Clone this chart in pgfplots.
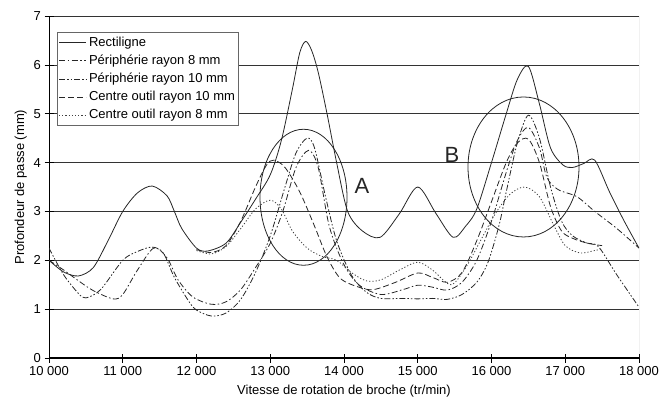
\documentclass[border=0pt]{standalone}
\usepackage{fontspec}
\setmainfont{Liberation Sans}
\usepackage{pgfplots}
\pgfplotsset{compat=1.18}

\begin{document}
\begin{tikzpicture}
\path[use as bounding box] (0,0) rectangle (663pt,408pt);

\begin{axis}[
    at={(49pt,50pt)}, anchor=south west,
    scale only axis, width=590pt, height=342pt,
    xmin=10000, xmax=18000, ymin=0, ymax=7,
    axis x line=bottom, axis y line=left,
    axis line style={-, black},
    x axis line style={line width=1.2pt},
    xtick={10000,11000,...,18000},
    xticklabels={10~000,11~000,12~000,13~000,14~000,15~000,16~000,17~000,18~000},
    scaled x ticks=false,
    ytick={0,1,...,7},
    ymajorgrids,
    grid style={black!80, line width=0.7pt},
    tick align=center,
    major tick length=9pt,
    tick style={black, line width=0.7pt},
    /pgf/number format/assume math mode=true,
    tick label style={font=\fontsize{13}{15}\selectfont},
    xlabel={Vitesse de rotation de broche (tr/min)},
    ylabel={Profondeur de passe (mm)},
    label style={font=\fontsize{13}{15}\selectfont},
    xlabel style={yshift=-3pt},
    legend style={
        at={(rel axis cs:0.014,0.953)}, anchor=north west,
        draw=black!60, line width=0.8pt, fill=white,
        font=\fontsize{13}{15}\selectfont,
        cells={anchor=west},
        nodes={text height=10pt, text depth=3pt, inner sep=2.6pt},
        inner sep=1pt, row sep=0pt,
    },
    legend image code/.code={\draw[#1] (0pt,0pt) -- (27pt,0pt);},
]

% Rectiligne
\addplot[black!85, line width=0.8pt, smooth] coordinates {
(10000,2.00)(10200,1.76)(10400,1.68)(10600,1.85)(10800,2.40)(11000,3.00)
(11200,3.38)(11400,3.52)(11600,3.32)(11700,3.00)(11800,2.65)(12000,2.25)
(12150,2.19)(12400,2.35)(12600,2.78)(12800,3.25)(13000,3.75)(13150,4.45)
(13300,5.50)(13400,6.25)(13480,6.48)(13560,6.30)(13650,5.85)(13770,5.00)
(13900,4.00)(14050,3.00)(14250,2.60)(14490,2.47)(14750,2.95)(15000,3.50)
(15250,2.95)(15480,2.47)(15650,2.70)(15800,3.05)(16000,4.00)(16200,5.00)
(16350,5.70)(16500,5.97)(16650,5.20)(16800,4.30)(16970,3.95)(17100,3.90)
(17250,3.98)(17400,4.05)(17600,3.40)(17800,2.80)(18000,2.25)
};
\addlegendentry{Rectiligne}

% Peripherie rayon 8 mm
\addplot[black!85, line width=0.8pt, smooth,
    dash pattern=on 6pt off 2.5pt on 1.5pt off 2.5pt] coordinates {
(10000,2.00)(10200,1.80)(10400,1.58)(10600,1.38)(10870,1.21)(11000,1.30)
(11200,1.80)(11420,2.25)(11600,2.05)(11750,1.60)(11950,1.25)(12200,1.10)
(12400,1.15)(12600,1.40)(12800,1.85)(13000,2.35)(13170,3.00)(13350,3.90)
(13520,4.25)(13650,3.90)(13800,2.70)(13990,1.94)(14200,1.50)(14500,1.30)
(14800,1.40)(15000,1.49)(15200,1.45)(15400,1.39)(15600,1.55)(15800,2.00)
(16000,2.80)(16200,3.80)(16350,4.45)(16500,4.72)(16650,4.30)(16750,3.70)
(16900,3.45)(17160,3.30)(17400,3.00)(17700,2.65)(18000,2.25)
};
\addlegendentry{Périphérie rayon 8 mm}

% Peripherie rayon 10 mm
\addplot[black!85, line width=0.8pt, smooth,
    dash pattern=on 6pt off 2pt on 1.5pt off 2pt on 1.5pt off 2pt] coordinates {
(10000,2.25)(10200,1.70)(10400,1.32)(10500,1.23)(10700,1.40)(11000,2.00)
(11200,2.18)(11400,2.27)(11550,2.15)(11700,1.65)(11900,1.15)(12000,0.98)
(12200,0.86)(12400,0.92)(12600,1.20)(12800,1.75)(13000,2.50)(13200,3.50)
(13350,4.20)(13500,4.50)(13600,4.30)(13750,3.30)(13900,2.40)(14100,1.70)
(14300,1.35)(14500,1.22)(14800,1.22)(15000,1.21)(15200,1.22)(15400,1.20)
(15600,1.30)(15800,1.55)(15950,1.95)(16100,2.70)(16200,3.40)(16350,4.40)
(16500,4.97)(16650,4.50)(16800,3.50)(16950,2.80)(17100,2.50)(17300,2.35)
(17450,2.28)(17700,1.70)(18000,1.04)
};
\addlegendentry{Périphérie rayon 10 mm}

% Centre outil rayon 10 mm
\addplot[black!85, line width=0.8pt, smooth,
    dash pattern=on 6pt off 3pt] coordinates {
(12000,2.22)(12200,2.16)(12400,2.30)(12600,2.80)(12800,3.50)(12950,3.95)
(13050,4.05)(13200,3.90)(13400,3.40)(13600,2.70)(13770,2.07)(13950,1.63)
(14200,1.45)(14400,1.40)(14700,1.55)(15000,1.74)(15200,1.65)(15400,1.55)
(15600,1.75)(15800,2.40)(16000,3.20)(16200,4.00)(16350,4.40)(16500,4.48)
(16650,4.00)(16800,3.10)(16950,2.60)(17100,2.45)(17300,2.35)(17500,2.30)
};
\addlegendentry{Centre outil rayon 10 mm}

% Centre outil rayon 8 mm
\addplot[black!75, line width=0.8pt, smooth,
    dash pattern=on 1.2pt off 2pt] coordinates {
(12000,2.20)(12200,2.13)(12400,2.28)(12600,2.65)(12800,3.05)(13000,3.23)
(13150,3.05)(13300,2.60)(13500,2.25)(13700,2.08)(13900,2.00)(14100,1.75)
(14300,1.58)(14500,1.60)(14750,1.80)(15000,1.96)(15200,1.80)(15450,1.50)
(15650,1.85)(15850,2.40)(16050,2.95)(16250,3.35)(16450,3.50)(16650,3.30)
(16850,2.70)(17000,2.30)(17200,2.15)(17400,2.20)(17500,2.23)
};
\addlegendentry{Centre outil rayon 8 mm}

% right border
\draw[black!45, line width=0.8pt] (rel axis cs:1,0) -- (rel axis cs:1,1);

% circled zones
\draw[black!85, line width=0.8pt] (axis cs:13451,3.29) ellipse [x radius=43.5pt, y radius=68pt];
\draw[black!85, line width=0.8pt] (axis cs:16434,3.91) ellipse [x radius=55.5pt, y radius=70pt];
\node[font=\fontsize{22}{22}\selectfont, text=black!85] at (axis cs:14244,3.52) {A};
\node[font=\fontsize{22}{22}\selectfont, text=black!85] at (axis cs:15464,4.15) {B};

\end{axis}
\end{tikzpicture}
\end{document}
